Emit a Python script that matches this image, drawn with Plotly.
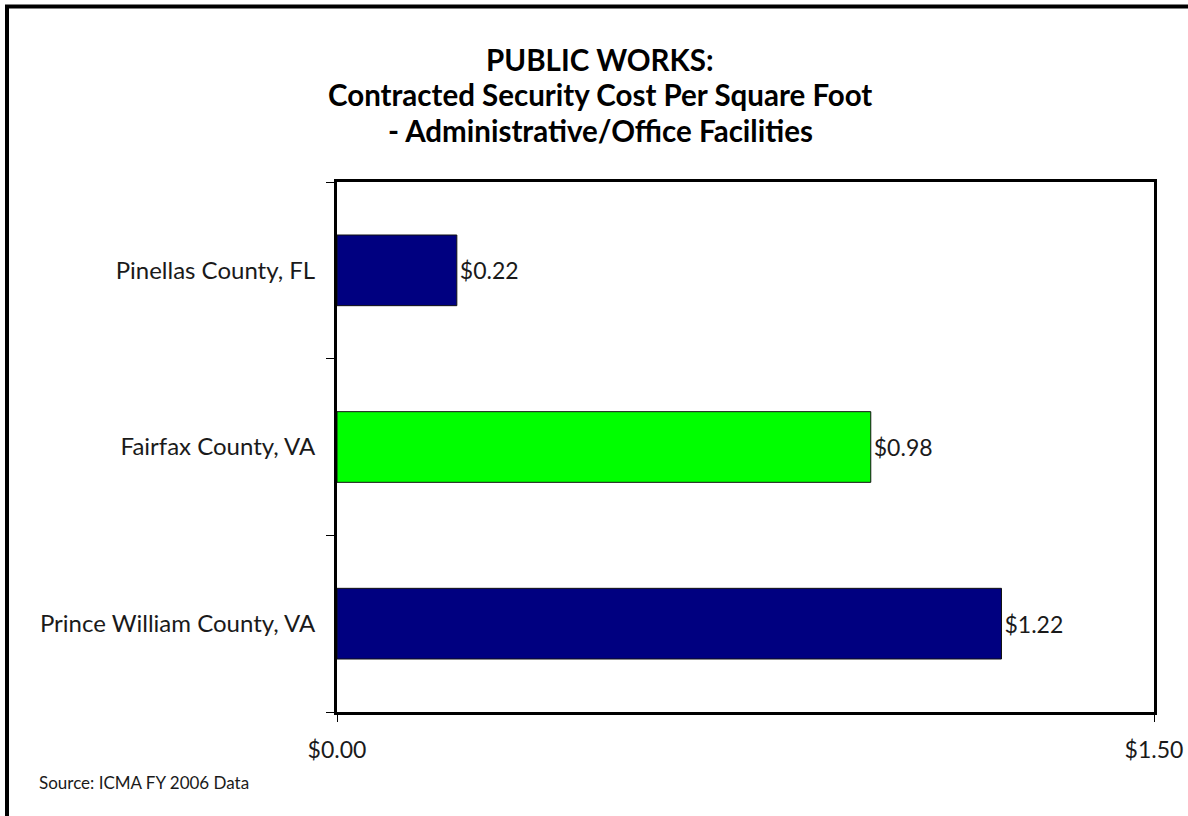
import plotly.graph_objects as go

counties = ["Pinellas County, FL", "Fairfax County, VA", "Prince William County, VA"]
costs = [0.22, 0.98, 1.22]
x_ticks = [0.0, 1.5]
title_lines = ["PUBLIC WORKS:", "Contracted Security Cost Per Square Foot",
               "- Administrative/Office Facilities"]
source_note = "Source: ICMA FY 2006 Data"

bar_colors = ["#000080", "#00FF00", "#000080"]

W, H = 1188, 816
L, R, T, B = 337, 1154, 182, 712  # plot area pixels

def px(x):
    return (x - L) / (R - L)

def py(y):
    return (B - y) / (B - T)

FONT = "Lato"
TXT = "#1a1a1a"

fig = go.Figure(go.Bar(
    x=costs, y=counties, orientation="h",
    marker=dict(color=bar_colors, line=dict(color="#111111", width=1)),
    texttemplate="$%{x:.2f}", textposition="outside",
    textfont=dict(family=FONT, size=23, color=TXT),
    cliponaxis=False, width=0.4,
))

fig.update_layout(
    width=W, height=H,
    margin=dict(l=L, r=W - R, t=T, b=H - B, autoexpand=False),
    paper_bgcolor="white", plot_bgcolor="white",
    showlegend=False,
    font=dict(family=FONT, color=TXT),
    xaxis=dict(
        range=[0, 1.5], tickvals=x_ticks,
        ticktext=["$%.2f" % v for v in x_ticks],
        showgrid=False, zeroline=False, automargin=False,
        showline=True, linecolor="black", linewidth=3, mirror=True,
        ticks="outside", ticklen=7, tickcolor="black", tickwidth=1,
        tickfont=dict(family=FONT, size=23, color=TXT),
        ticklabelstandoff=8,
    ),
    yaxis=dict(
        categoryorder="array", categoryarray=counties[::-1],
        showgrid=False, zeroline=False, automargin=False,
        showline=True, linecolor="black", linewidth=3, mirror=True,
        ticks="outside", ticklen=8, tickcolor="black", tickwidth=1,
        tickson="boundaries",
        tickfont=dict(family=FONT, size=24, color=TXT),
        ticklabelstandoff=14,
    ),
)

# title lines
for line, yc in zip(title_lines, [59.5, 95, 130.5]):
    fig.add_annotation(
        text="<b>%s</b>" % line, xref="paper", yref="paper",
        x=px(600), y=py(yc), xanchor="center", yanchor="middle", showarrow=False,
        font=dict(family=FONT, size=29.5, color="#000000"),
    )

# outer frame (left and top edges)
fig.add_shape(type="line", xref="paper", yref="paper",
              x0=px(7), x1=px(7), y0=py(H + 5), y1=py(6.5),
              line=dict(color="black", width=4))
fig.add_shape(type="line", xref="paper", yref="paper",
              x0=px(5), x1=px(W + 5), y0=py(6.5), y1=py(6.5),
              line=dict(color="black", width=4))

fig.add_annotation(
    text=source_note, xref="paper", yref="paper",
    x=px(37), y=py(782), xanchor="left", yanchor="middle", showarrow=False,
    font=dict(family=FONT, size=17, color=TXT),
)

fig.write_html(
    "out.html",
    config={"displayModeBar": False},
    post_script=(
        "document.body.style.margin='0';"
        "document.body.style.overflow='hidden';"
        "document.documentElement.style.overflow='hidden';"
    ),
)
